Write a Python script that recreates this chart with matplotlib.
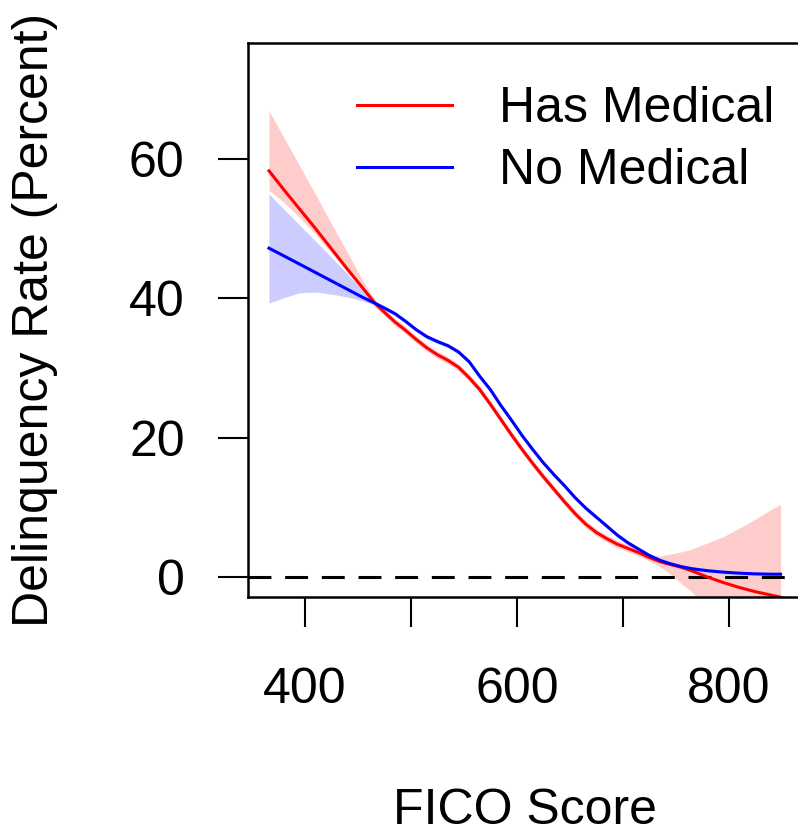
import numpy as np
import matplotlib
matplotlib.use("Agg")
import matplotlib.pyplot as plt

plt.rcParams['font.family'] = ['Liberation Sans', 'DejaVu Sans']

# FICO score grid
fico = [366, 380, 395, 410, 425, 440, 455, 466, 475, 485, 495, 505, 515, 525,
        535, 545, 555, 565, 575, 585, 595, 605, 615, 625, 635, 645, 655, 665,
        675, 685, 695, 705, 715, 725, 735, 745, 755, 765, 780, 795, 810, 825,
        840, 849]

# Has Medical: fitted delinquency rate and band
has_med = [58.3, 55.6, 52.8, 50.0, 47.1, 44.2, 41.4, 39.3, 38.0, 36.6, 35.4,
           34.1, 32.9, 31.9, 31.1, 30.1, 28.6, 26.9, 24.8, 22.6, 20.4, 18.3,
           16.3, 14.4, 12.6, 10.8, 9.1, 7.6, 6.4, 5.5, 4.7, 4.1, 3.5, 2.8, 2.2,
           1.8, 1.4, 0.9, 0.0, -0.8, -1.5, -2.1, -2.6, -2.9]
has_med_hi = [66.9, 63.1, 59.0, 54.9, 50.7, 46.6, 42.4, 39.8, 38.5, 37.1, 35.9,
              34.6, 33.4, 32.4, 31.6, 30.6, 29.1, 27.4, 25.3, 23.1, 20.9, 18.8,
              16.8, 14.9, 13.1, 11.3, 9.6, 8.1, 6.9, 6.0, 5.2, 4.6, 4.0, 3.3,
              3.0, 3.3, 3.6, 4.0, 4.9, 5.8, 7.0, 8.3, 9.7, 10.4]
has_med_lo = [55.5, 53.8, 51.6, 49.2, 46.5, 43.8, 41.0, 38.8, 37.5, 36.1, 34.9,
              33.6, 32.4, 31.4, 30.6, 29.6, 28.1, 26.4, 24.3, 22.1, 19.9, 17.8,
              15.8, 13.9, 12.1, 10.3, 8.6, 7.1, 5.9, 5.0, 4.2, 3.6, 3.0, 2.3,
              1.5, 0.4, -0.9, -2.1, -4.9, -7.4, -10.0, -12.5, -14.9, -16.2]

# No Medical: fitted delinquency rate and band
no_med = [47.2, 46.1, 44.9, 43.7, 42.5, 41.3, 40.1, 39.3, 38.6, 37.8, 36.7,
          35.5, 34.5, 33.8, 33.2, 32.3, 30.9, 28.8, 26.9, 24.6, 22.5, 20.3,
          18.3, 16.4, 14.7, 13.1, 11.4, 9.9, 8.6, 7.3, 6.0, 4.9, 4.0, 3.1, 2.4,
          1.9, 1.5, 1.2, 0.9, 0.7, 0.55, 0.45, 0.4, 0.4]
no_med_hi = [55.0, 52.8, 50.5, 48.2, 45.9, 43.5, 41.1, 39.6, 38.9, 38.1, 37.0,
             35.8, 34.8, 34.1, 33.5, 32.6, 31.2, 29.1, 27.2, 24.9, 22.8, 20.6,
             18.6, 16.7, 15.0, 13.4, 11.7, 10.2, 8.9, 7.6, 6.3, 5.2, 4.3, 3.4,
             2.7, 2.2, 1.8, 1.5, 1.2, 1.0, 0.85, 0.75, 0.7, 0.7]
no_med_lo = [39.3, 40.1, 40.8, 40.9, 40.6, 40.2, 39.6, 39.0, 38.3, 37.5, 36.4,
             35.2, 34.2, 33.5, 32.9, 32.0, 30.6, 28.5, 26.6, 24.3, 22.2, 20.0,
             18.0, 16.1, 14.4, 12.8, 11.1, 9.6, 8.3, 7.0, 5.7, 4.6, 3.7, 2.8,
             2.1, 1.6, 1.2, 0.9, 0.6, 0.4, 0.25, 0.15, 0.1, 0.1]

x_ticks = [400, 500, 600, 700, 800]
x_tick_labels = ['400', '', '600', '', '800']
y_ticks = [0, 20, 40, 60]
series_labels = ['Has Medical', 'No Medical']

fig = plt.figure(figsize=(7.98, 8.35), dpi=100)
ax = fig.add_axes([248 / 798, 238 / 835, 553 / 798, 554 / 835])

ax.fill_between(fico, has_med_lo, has_med_hi, color='#ffcccc', lw=0)
ax.fill_between(fico, no_med_lo, no_med_hi, color='#ccccff', lw=0)
ax.axhline(0, color='black', lw=2.2, ls=(0, (7.5, 4.5)))
ax.plot(fico, has_med, color='red', lw=2.2, label=series_labels[0])
ax.plot(fico, no_med, color='blue', lw=2.2, label=series_labels[1])

ax.set_xlim(346.2, 868.3)
ax.set_ylim(-2.87, 76.65)
ax.set_xticks(x_ticks)
ax.set_xticklabels(x_tick_labels)
ax.set_yticks(y_ticks)
ax.tick_params(axis='both', length=21.6, width=1.5, labelsize=36,
               direction='out')
ax.tick_params(axis='y', pad=24)
ax.tick_params(axis='x', pad=29)
for s in ax.spines.values():
    s.set_linewidth(1.8)

ax.set_xlabel('FICO Score', fontsize=36, labelpad=54)
ax.set_ylabel('Delinquency Rate (Percent)', fontsize=36, labelpad=51)

ax.legend(loc='upper left', bbox_to_anchor=(357 / 798, 1 - 86 / 835),
          bbox_transform=fig.transFigure, frameon=False, fontsize=36,
          handlelength=1.9, handletextpad=0.94, labelspacing=0.32,
          borderpad=0, borderaxespad=0)

fig.savefig('out.png', dpi=100)
